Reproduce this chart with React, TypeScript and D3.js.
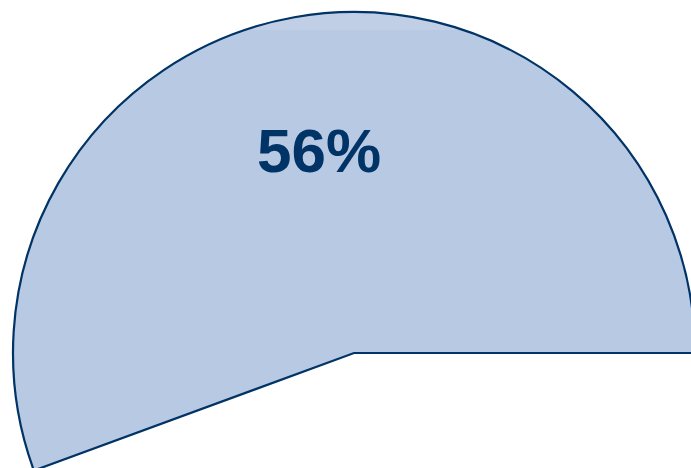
import React from "react";
import * as d3 from "d3";

const categories = ["Yes", "No"];
const values = [55.6, 44.4];
const labels = ["56%", ""];

const W = 691;
const H = 468;
const cx = 354;
const cy = 353;
const R = 341;

export default function App() {
  const pie = d3
    .pie<number>()
    .sort(null)
    .startAngle(Math.PI / 2)
    .endAngle(Math.PI / 2 - 2 * Math.PI);
  const arcs = pie(values);
  const arc = d3.arc<d3.PieArcDatum<number>>().innerRadius(0).outerRadius(R);
  const first = arcs[0];
  const path = arc(first) || "";
  return (
    <svg
      width={W}
      height={H}
      style={{ position: "fixed", left: 0, top: 0, background: "#fff" }}
    >
      <defs>
        <clipPath id="sliceClip">
          <path d={path} transform={`translate(${cx},${cy})`} />
        </clipPath>
      </defs>
      <g transform={`translate(${cx},${cy})`}>
        <path d={path} fill="#b8c9e3" stroke="none" />
      </g>
      <rect x={0} y={0} width={W} height={30} fill="#fff" opacity={0.12} clipPath="url(#sliceClip)" />
      <g transform={`translate(${cx},${cy})`}>
        <path d={path} fill="none" stroke="#003366" strokeWidth={2.2} strokeLinejoin="miter" />
      </g>
      <text
        x={319}
        y={172}
        textAnchor="middle"
        fontFamily="'Liberation Sans', Arial, sans-serif"
        fontWeight="bold"
        fontSize={62}
        fill="#003366"
      >
        {labels[0]}
      </text>
      <title>{categories[0]}</title>
    </svg>
  );
}
